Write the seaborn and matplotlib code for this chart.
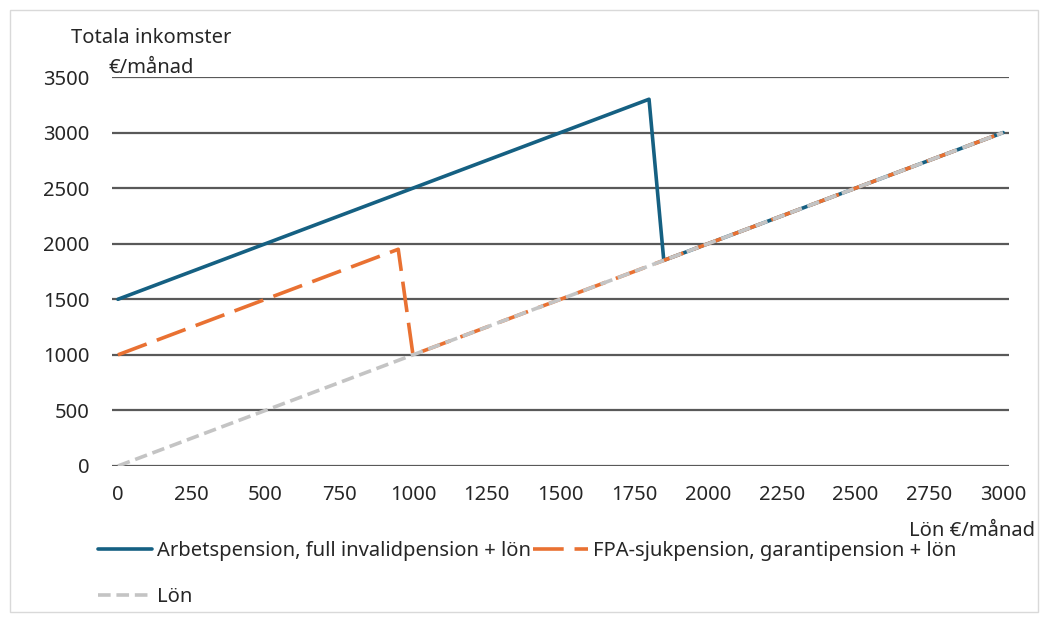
import pandas as pd
import numpy as np
import seaborn as sns
import matplotlib.pyplot as plt
from matplotlib.lines import Line2D

# breakpoints (lön €/månad -> totala inkomster €/månad)
arbets_x = [0, 1800, 1850, 3000]
arbets_y = [1500, 3300, 1850, 3000]
fpa_x = [0, 950, 1000, 3000]
fpa_y = [1000, 1950, 1000, 3000]
lon_x = [0, 3000]
lon_y = [0, 3000]

labels = ['Arbetspension, full invalidpension + lön',
          'FPA-sjukpension, garantipension + lön',
          'Lön']
colors = ['#156082', '#E97132', '#C4C4C4']
xticks = [0, 250, 500, 750, 1000, 1250, 1500, 1750, 2000, 2250, 2500, 2750, 3000]
yticks = [0, 500, 1000, 1500, 2000, 2500, 3000, 3500]

sns.set_style('white')
plt.rcParams['font.family'] = ['Noto Sans', 'DejaVu Sans']
fs = 14.5
lw = 2.6
orange_dash = [8.5, 3]
gray_dash = [3.5, 1.6]

fig = plt.figure(figsize=(10.43, 6.19), dpi=100)
ax = fig.add_axes([0.1074, 0.2472, 0.860, 0.6284])

df_a = pd.DataFrame({'x': arbets_x, 'y': arbets_y})
df_f = pd.DataFrame({'x': fpa_x, 'y': fpa_y})
df_l = pd.DataFrame({'x': lon_x, 'y': lon_y})

sns.lineplot(data=df_a, x='x', y='y', ax=ax, color=colors[0], lw=lw, sort=False, zorder=3)
sns.lineplot(data=df_f, x='x', y='y', ax=ax, color=colors[1], lw=lw, sort=False, zorder=4)
ax.lines[-1].set_dashes(orange_dash)
sns.lineplot(data=df_l, x='x', y='y', ax=ax, color=colors[2], lw=lw, sort=False, zorder=5)
ax.lines[-1].set_dashes(gray_dash)

ax.set_xlim(-20, 3020)
ax.set_ylim(0, 3500)
ax.set_xticks(xticks)
ax.set_yticks(yticks)
ax.tick_params(labelsize=fs, length=0)
ax.tick_params(axis='x', pad=14)
ax.tick_params(axis='y', pad=16)
ax.yaxis.grid(True, color='#595959', lw=1.6)
ax.set_axisbelow(True)
for s in ['top', 'right', 'left', 'bottom']:
    ax.spines[s].set_visible(False)
ax.set_xlabel('')
ax.set_ylabel('')

fig.text(0.145, 0.938, 'Totala inkomster', fontsize=fs, ha='center', va='center')
fig.text(0.145, 0.890, '€/månad', fontsize=fs, ha='center', va='center')
fig.text(0.992, 0.142, 'Lön €/månad', fontsize=fs, ha='right', va='center')

# legend fills column-wise: col 1 = arbets, lön ; col 2 = fpa
handles = [Line2D([], [], color=colors[0], lw=lw),
           Line2D([], [], color=colors[2], lw=lw, dashes=gray_dash),
           Line2D([], [], color=colors[1], lw=lw, dashes=orange_dash)]
leg_labels = [labels[0], labels[2], labels[1]]
fig.legend(handles, leg_labels, loc='upper left', bbox_to_anchor=(0.094, 0.126), ncol=2,
           frameon=False, fontsize=fs, handlelength=2.7, handletextpad=0.25,
           columnspacing=0.1, labelspacing=1.3, borderaxespad=0, borderpad=0)

fig.patches.append(plt.Rectangle((0.010, 0.012), 0.985, 0.972, transform=fig.transFigure,
                                 fill=False, edgecolor='#D9D9D9', lw=1))

fig.savefig('out.png', dpi=100)
